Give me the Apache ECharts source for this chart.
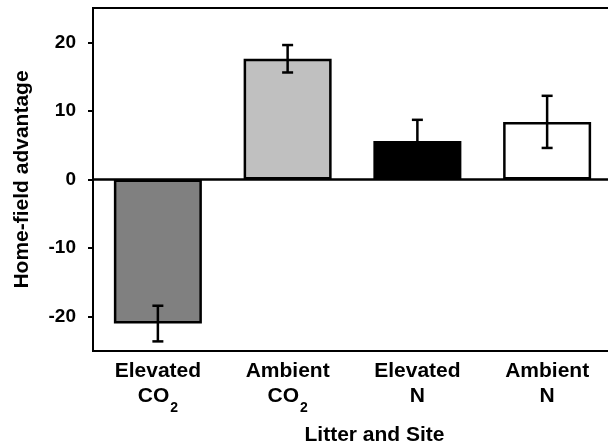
<!DOCTYPE html>
<html>
<head>
<meta charset="utf-8">
<script src="https://cdn.jsdelivr.net/npm/echarts@6/dist/echarts.min.js"></script>
<style>
  html, body { margin: 0; padding: 0; background: #ffffff; }
  #chart { width: 608px; height: 448px; }
</style>
</head>
<body>
<div id="chart"></div>
<script>
// Litter/site groups, mean home-field advantage and standard error
var categories = ['Elevated\n{co|CO}{sub|2}', 'Ambient\n{co|CO}{sub|2}', 'Elevated\nN', 'Ambient\nN'];
var means = [-21.0, 17.6, 5.6, 8.4];
var errors = [2.6, 2.0, 3.1, 3.8];
var barColors = ['#808080', '#c0c0c0', '#000000', '#ffffff'];
var yTicks = [-20, -10, 0, 10, 20];

var FONT = '"Liberation Sans", Arial, Helvetica, sans-serif';

var chart = echarts.init(document.getElementById('chart'), null, { renderer: 'canvas' });

var barData = means.map(function (v, i) {
  return { value: v, itemStyle: { color: barColors[i] } };
});
var errData = means.map(function (v, i) {
  return [i, v - errors[i], v + errors[i]];
});

chart.setOption({
  animation: false,
  backgroundColor: '#ffffff',
  grid: {
    left: 93, top: 8, width: 519, bottom: 97,
    outerBoundsMode: 'none',
    containLabel: false,
    show: true, borderColor: '#000', borderWidth: 2, backgroundColor: 'transparent'
  },
  xAxis: {
    type: 'category',
    data: categories,
    name: 'Litter and Site',
    nameLocation: 'middle',
    nameGap: 74,
    nameTextStyle: {
      fontFamily: FONT, fontWeight: 'bold', fontSize: 21, color: '#000',
      padding: [0, 0, 0, 44]
    },
    axisLine: { onZero: false, lineStyle: { color: '#000', width: 2 } },
    axisTick: { alignWithLabel: true, length: 5, lineStyle: { color: '#000', width: 2 } },
    axisLabel: {
      margin: 8,
      interval: 0,
      fontFamily: FONT, fontWeight: 'bold', fontSize: 21, color: '#000', lineHeight: 25,
      rich: {
        co: { fontFamily: FONT, fontWeight: 'bold', fontSize: 21, color: '#000', lineHeight: 25 },
        sub: {
          fontFamily: FONT, fontWeight: 'bold', fontSize: 14, color: '#000',
          lineHeight: 14, verticalAlign: 'bottom', padding: [0, 0, -6, 1]
        }
      }
    },
    splitLine: { show: false }
  },
  yAxis: {
    type: 'value',
    min: -25,
    max: 25,
    name: 'Home-field advantage',
    nameLocation: 'middle',
    nameGap: 60,
    nameRotate: 90,
    nameTextStyle: { fontFamily: FONT, fontWeight: 'bold', fontSize: 21, color: '#000' },
    axisLine: { show: true, lineStyle: { color: '#000', width: 2 } },
    axisTick: { show: true, length: 5, customValues: yTicks, lineStyle: { color: '#000', width: 2 } },
    axisLabel: {
      customValues: yTicks,
      margin: 17,
      fontFamily: FONT, fontWeight: 'bold', fontSize: 19, color: '#000'
    },
    splitLine: { show: false }
  },
  series: [
    {
      type: 'bar',
      data: barData,
      barWidth: 88,
      itemStyle: { borderColor: '#000', borderWidth: 2.5 },
      markLine: {
        silent: true,
        symbol: ['none', 'none'],
        label: { show: false },
        lineStyle: { color: '#000', width: 2.5, type: 'solid' },
        data: [{ yAxis: 0 }]
      },
      z: 2
    },
    {
      type: 'custom',
      data: errData,
      z: 5,
      renderItem: function (params, api) {
        var x = api.value(0);
        var lo = api.coord([x, api.value(1)]);
        var hi = api.coord([x, api.value(2)]);
        var half = 5.5;
        var style = { stroke: '#000', lineWidth: 2.5 };
        return {
          type: 'group',
          children: [
            { type: 'line', shape: { x1: lo[0], y1: lo[1], x2: hi[0], y2: hi[1] }, style: style },
            { type: 'line', shape: { x1: lo[0] - half, y1: lo[1], x2: lo[0] + half, y2: lo[1] }, style: style },
            { type: 'line', shape: { x1: hi[0] - half, y1: hi[1], x2: hi[0] + half, y2: hi[1] }, style: style }
          ]
        };
      }
    }
  ]
});
</script>
</body>
</html>
